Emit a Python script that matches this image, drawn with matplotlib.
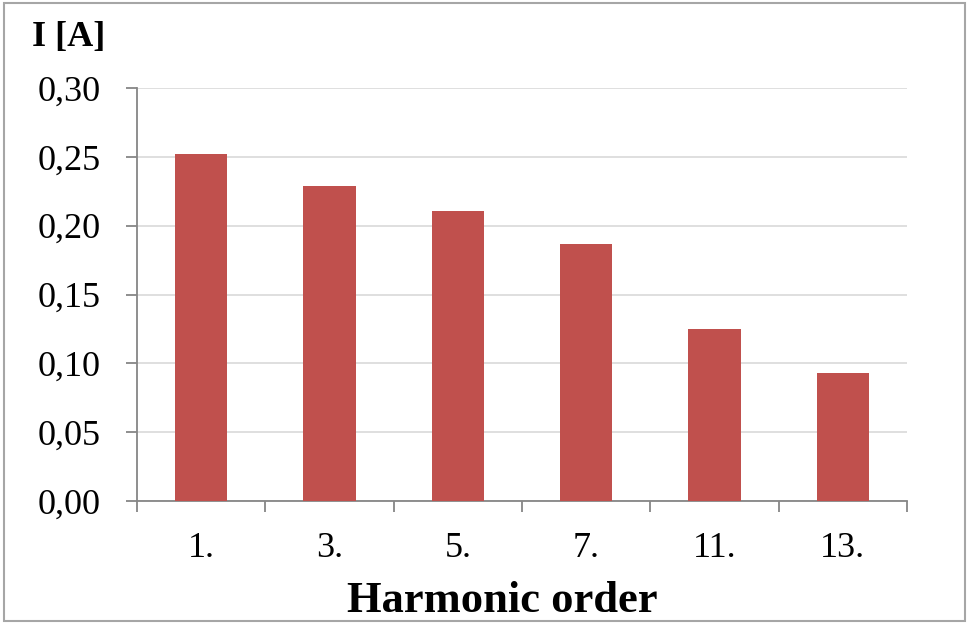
import matplotlib.pyplot as plt
from matplotlib.patches import Rectangle

# harmonic currents
orders = ['1.', '3.', '5.', '7.', '11.', '13.']
current = [0.252, 0.229, 0.211, 0.187, 0.125, 0.093]
yticks = [0.00, 0.05, 0.10, 0.15, 0.20, 0.25, 0.30]
ytick_labels = ['0,00', '0,05', '0,10', '0,15', '0,20', '0,25', '0,30']

BAR_COLOR = '#C0504D'
AXIS_GRAY = '#868686'

plt.rcParams['font.family'] = ['Liberation Serif', 'DejaVu Serif']

fig = plt.figure(figsize=(9.69, 6.24), dpi=100)
ax = fig.add_axes([137/969, 1 - 501/624, (907-137)/969, (501-88)/624])

xs = list(range(len(orders)))
ax.bar(xs, current, width=0.41, color=BAR_COLOR, zorder=3)

ax.set_xlim(-0.5, len(orders) - 0.5)
ax.set_ylim(0, 0.30)
ax.set_yticks(yticks)
ax.set_yticklabels(ytick_labels, fontsize=26)
ax.yaxis.grid(True, color='#d9d9d9', linewidth=1.2, zorder=0)

# x ticks sit on the category boundaries, labels in the middle
ax.set_xticks([x - 0.5 for x in xs] + [len(orders) - 0.5])
ax.set_xticklabels([])
ax.set_xticks(xs, minor=True)
ax.set_xticklabels(orders, minor=True, fontsize=26)
ax.tick_params(axis='x', which='major', length=8, width=1.3, color=AXIS_GRAY, direction='out')
ax.tick_params(axis='x', which='minor', length=0, pad=22)
ax.tick_params(axis='y', length=8, width=1.3, color=AXIS_GRAY, pad=18)

for s in ['top', 'right']:
    ax.spines[s].set_visible(False)
for s in ['left', 'bottom']:
    ax.spines[s].set_color(AXIS_GRAY)
    ax.spines[s].set_linewidth(1.3)

fig.text(32/969, 1 - 46/624, 'I [A]', fontsize=26, fontweight='bold', va='baseline', ha='left')
fig.text(502/969, 1 - 612/624, 'Harmonic order', fontsize=32, fontweight='bold', va='baseline', ha='center')

fig.patches.append(Rectangle((4/969, 3/624), (965-4)/969, (621-3)/624, transform=fig.transFigure,
                             fill=False, edgecolor='#a6a6a6', linewidth=1.5))

fig.savefig('out.png', dpi=100)
